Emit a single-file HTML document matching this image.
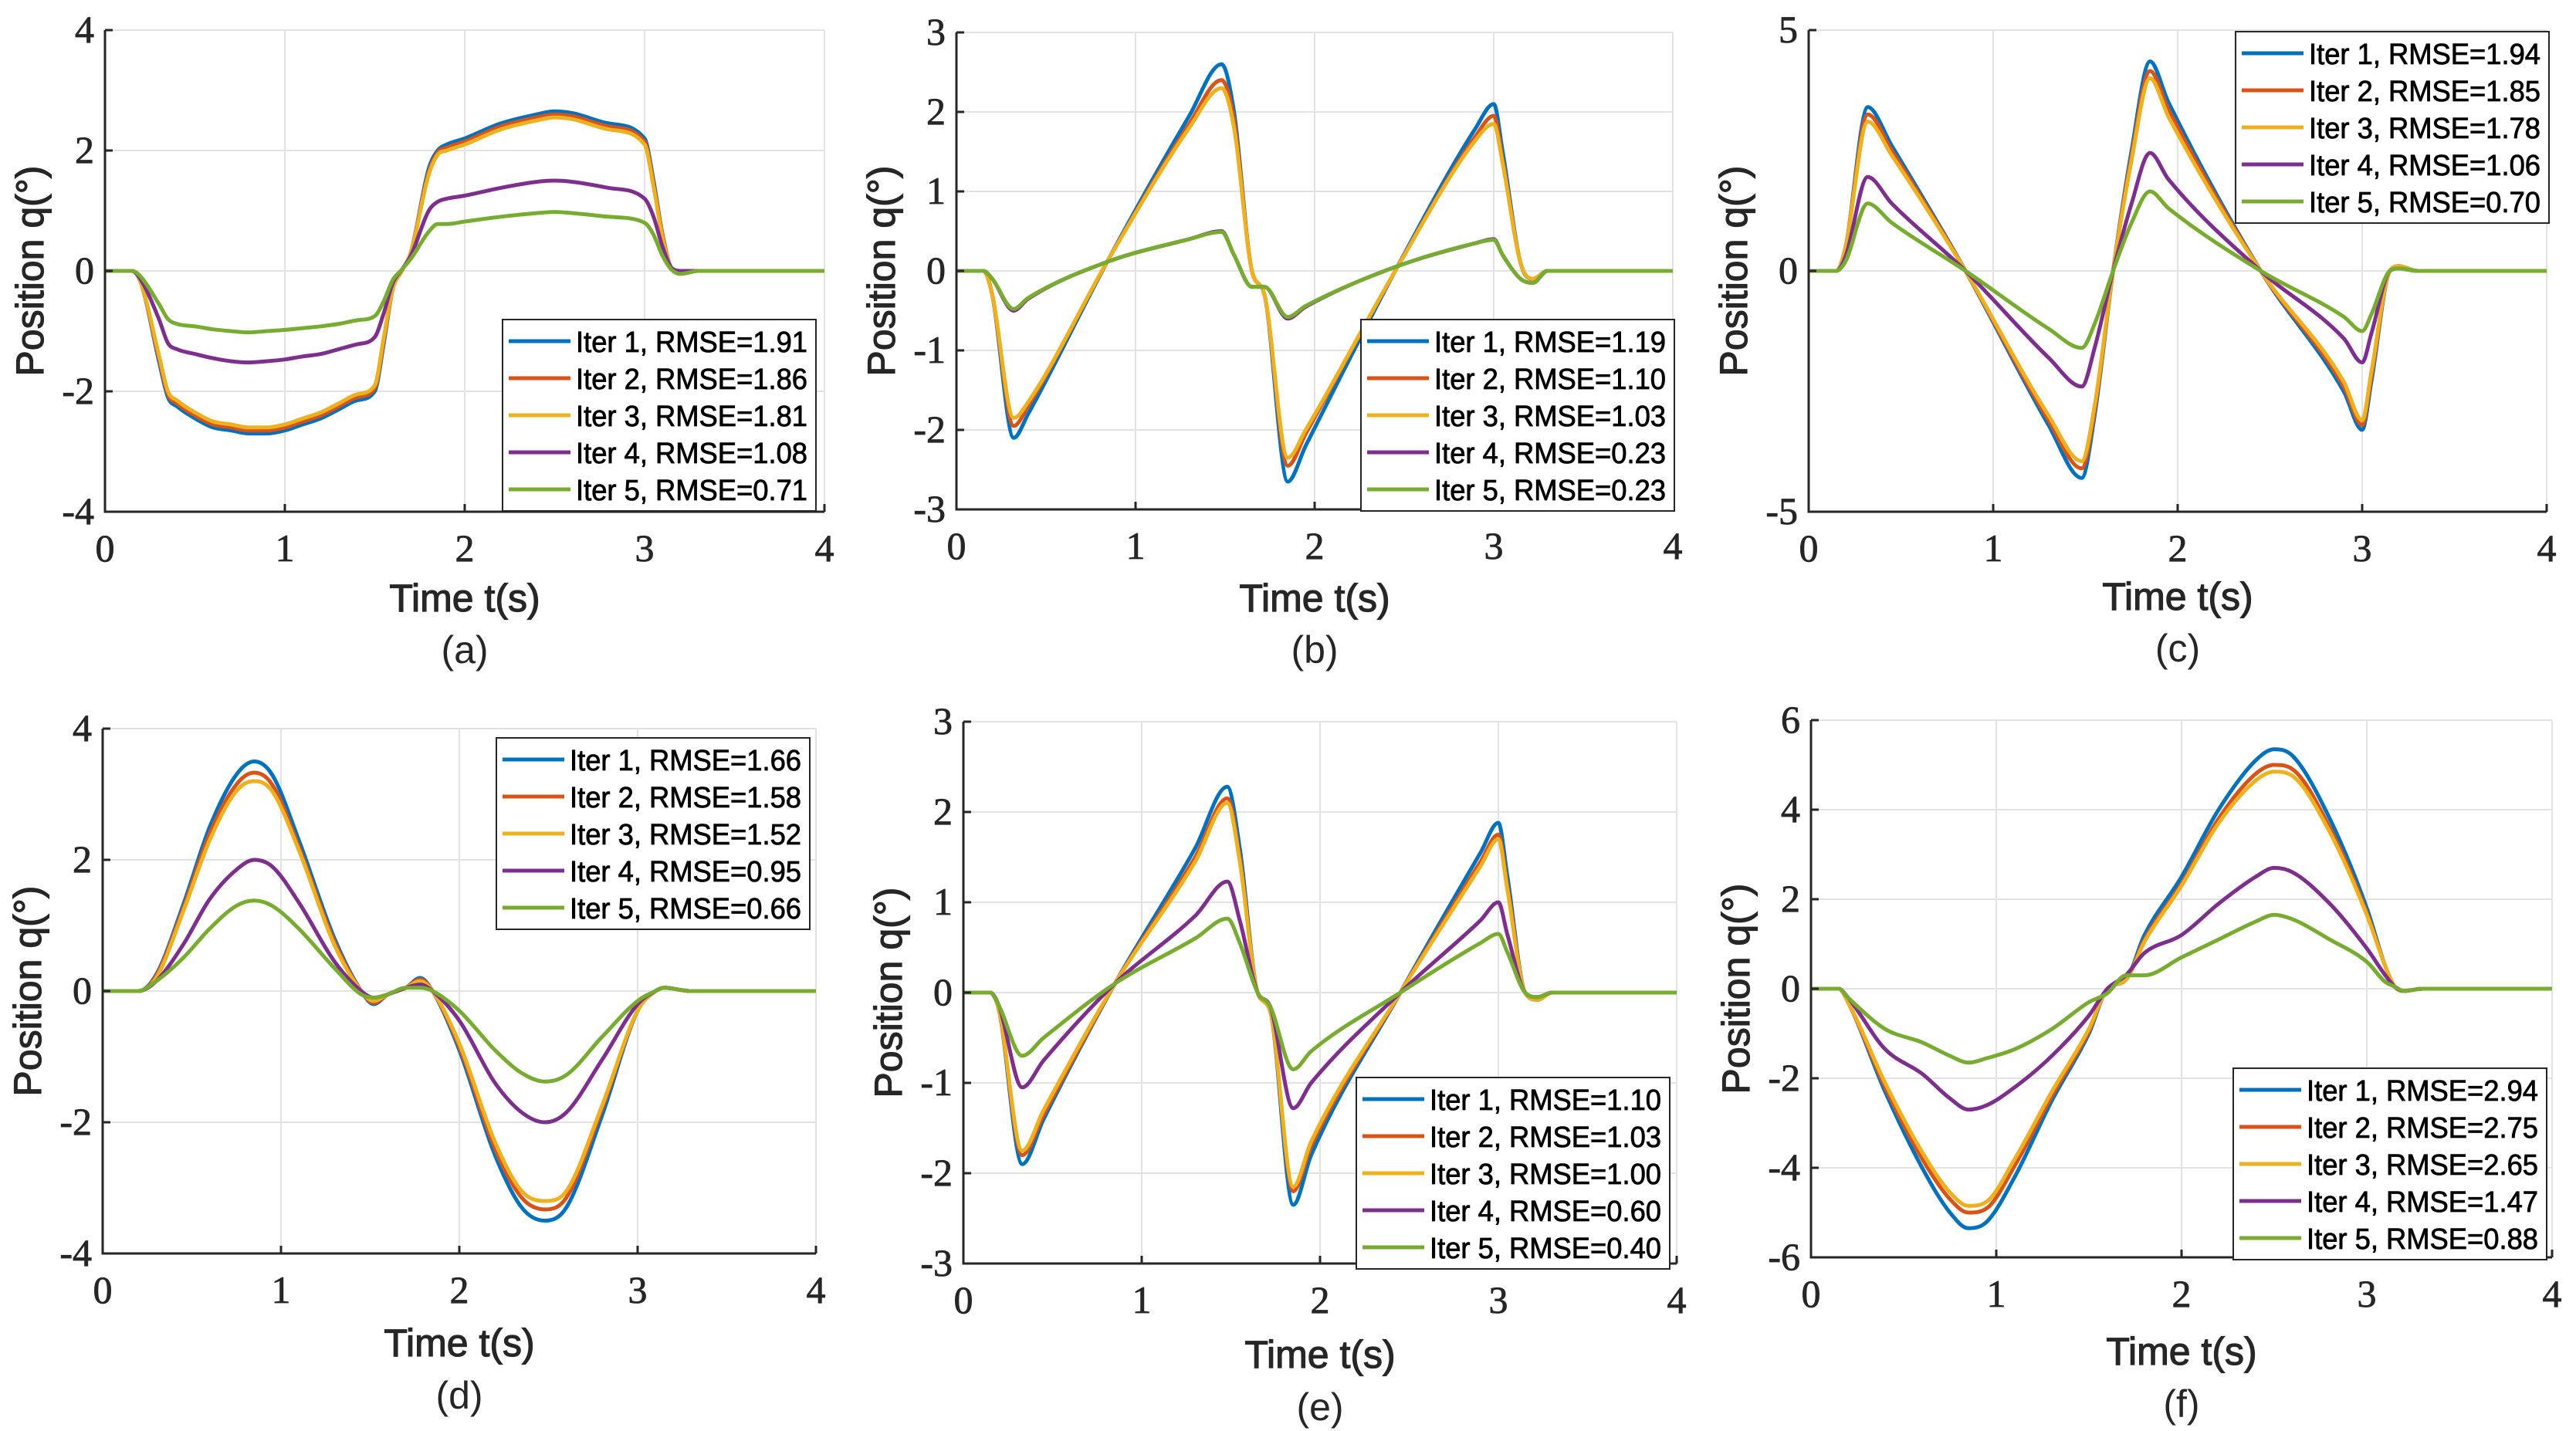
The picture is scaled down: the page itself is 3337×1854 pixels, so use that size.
<!DOCTYPE html>
<html><head><meta charset="utf-8"><style>
html,body{margin:0;padding:0;background:#fff;}
svg{display:block;}
</style></head><body>
<svg id="fig" width="3337" height="1854" viewBox="0 0 3337 1854" xmlns="http://www.w3.org/2000/svg"></svg>
<script>
// ---- data ----
const iterNames = ["Iter 1","Iter 2","Iter 3","Iter 4","Iter 5"];
const seriesColors = ["#0072BD","#D95319","#EDB120","#7E2F8E","#77AC30"];
const xTicks = [0,1,2,3,4];

// panel (a)
const tA = [0,0.15,0.2,0.3,0.35,0.4,0.5,0.6,0.7,0.8,0.9,1.0,1.1,1.2,1.3,1.4,1.5,1.55,1.6,1.65,1.7,1.8,1.85,1.9,2.0,2.2,2.4,2.5,2.6,2.8,3.0,3.05,3.1,3.15,3.2,3.3,4.0];
const a1 = [0,0,-0.2,-1.5,-2.1,-2.25,-2.45,-2.6,-2.65,-2.7,-2.7,-2.65,-2.55,-2.45,-2.3,-2.15,-2.0,-1.2,-0.3,0,0.3,1.7,2.0,2.1,2.2,2.45,2.6,2.65,2.62,2.45,2.2,1.5,0.6,0.05,0,0,0];
const a2 = [0,0,-0.2,-1.45,-2.05,-2.2,-2.4,-2.55,-2.6,-2.65,-2.65,-2.6,-2.5,-2.4,-2.25,-2.1,-1.95,-1.15,-0.3,0,0.3,1.65,1.97,2.05,2.15,2.4,2.55,2.6,2.57,2.4,2.15,1.45,0.6,0.05,0,0,0];
const a3 = [0,0,-0.2,-1.4,-2.0,-2.15,-2.35,-2.5,-2.55,-2.6,-2.6,-2.55,-2.45,-2.35,-2.2,-2.05,-1.9,-1.1,-0.3,0,0.3,1.6,1.93,2.0,2.1,2.35,2.5,2.55,2.52,2.35,2.1,1.4,0.55,0.05,0,0,0];
const a4 = [0,0,-0.15,-0.8,-1.2,-1.3,-1.38,-1.45,-1.5,-1.52,-1.5,-1.47,-1.42,-1.38,-1.3,-1.22,-1.1,-0.7,-0.2,0.02,0.25,1.0,1.15,1.2,1.25,1.38,1.48,1.5,1.48,1.38,1.2,0.9,0.4,0.05,0,0,0];
const a5 = [0,0,-0.1,-0.55,-0.8,-0.88,-0.92,-0.97,-1.0,-1.02,-1.0,-0.98,-0.95,-0.92,-0.88,-0.82,-0.75,-0.5,-0.15,0.02,0.2,0.65,0.78,0.78,0.82,0.9,0.96,0.98,0.96,0.9,0.8,0.6,0.25,0.02,-0.05,0,0];
const rmseA = ["1.91","1.86","1.81","1.08","0.71"];

// panel (b)
const tB = [0,0.15,0.2,0.32,0.4,0.85,1.3,1.48,1.55,1.65,1.72,1.85,1.95,2.45,2.9,3.0,3.05,3.15,3.22,3.3,4];
const b1 = [0,0,-0.3,-2.1,-1.8,0.15,1.95,2.6,2.0,0,-0.3,-2.65,-2.2,0.0,1.8,2.1,1.5,0.1,-0.1,0,0];
const b2 = [0,0,-0.3,-1.95,-1.7,0.15,1.85,2.4,1.9,0,-0.3,-2.45,-2.05,0,1.7,1.95,1.4,0.1,-0.1,0,0];
const b3 = [0,0,-0.3,-1.85,-1.65,0.15,1.8,2.3,1.8,0,-0.3,-2.35,-2.0,0,1.65,1.85,1.35,0.1,-0.1,0,0];
const b4 = [0,0,-0.1,-0.5,-0.35,0.12,0.4,0.5,0.2,-0.2,-0.2,-0.6,-0.45,0.05,0.35,0.4,0.2,-0.1,-0.15,0,0];
const b5 = [0,0,-0.1,-0.48,-0.34,0.12,0.4,0.49,0.2,-0.2,-0.2,-0.58,-0.44,0.05,0.35,0.39,0.2,-0.1,-0.15,0,0];
const rmseB = ["1.19","1.10","1.03","0.23","0.23"];

// panel (c)
const tC = [0,0.15,0.2,0.32,0.45,0.85,1.3,1.48,1.55,1.65,1.75,1.85,1.95,2.45,2.9,3.0,3.05,3.15,3.2,3.3,4];
const c1 = [0,0,0.5,3.4,2.6,0,-3.2,-4.3,-3.0,0,2.5,4.35,3.5,0,-2.5,-3.3,-2.3,0,0.1,0,0];
const c2 = [0,0,0.5,3.25,2.5,0,-3.1,-4.1,-2.9,0,2.4,4.15,3.35,0,-2.4,-3.2,-2.2,0,0.1,0,0];
const c3 = [0,0,0.5,3.1,2.4,0,-3.0,-3.95,-2.8,0,2.3,4.0,3.2,0,-2.3,-3.1,-2.1,0,0.1,0,0];
const c4 = [0,0,0.3,1.95,1.4,0,-1.8,-2.4,-1.6,0,1.4,2.45,1.9,0,-1.4,-1.9,-1.3,0,0.05,0,0];
const c5 = [0,0,0.2,1.4,1.0,0,-1.2,-1.6,-1.1,0,1.0,1.65,1.3,0,-0.95,-1.25,-0.9,0,0.05,0,0];
const rmseC = ["1.94","1.85","1.78","1.06","0.70"];

// panel (d)
const tD = [0,0.2,0.3,0.45,0.6,0.75,0.85,0.95,1.1,1.3,1.45,1.52,1.6,1.7,1.78,1.85,2.0,2.2,2.35,2.48,2.6,2.8,3.0,3.1,3.15,3.3,4];
const d1 = [0,0,0.25,1.3,2.5,3.3,3.5,3.3,2.3,0.8,0,-0.2,-0.05,0.05,0.2,0,-0.9,-2.5,-3.3,-3.5,-3.3,-1.9,-0.3,0,0.05,0,0];
const d2 = [0,0,0.23,1.25,2.4,3.15,3.33,3.15,2.2,0.75,0,-0.18,-0.05,0.05,0.18,0,-0.85,-2.4,-3.15,-3.33,-3.15,-1.8,-0.3,0,0.05,0,0];
const d3 = [0,0,0.2,1.2,2.3,3.05,3.2,3.05,2.15,0.7,0,-0.15,-0.05,0.05,0.15,0,-0.8,-2.3,-3.05,-3.2,-3.05,-1.75,-0.3,0,0.05,0,0];
const d4 = [0,0,0.15,0.7,1.4,1.85,2.0,1.9,1.35,0.45,0,-0.1,-0.05,0.05,0.1,0,-0.45,-1.4,-1.85,-2.0,-1.85,-1.05,-0.2,0,0.05,0,0];
const d5 = [0,0,0.15,0.5,0.95,1.3,1.38,1.3,0.95,0.35,-0.05,-0.1,-0.05,0.05,0.05,0,-0.3,-0.9,-1.25,-1.38,-1.28,-0.7,-0.15,0,0.05,0,0];
const rmseD = ["1.66","1.58","1.52","0.95","0.66"];

// panel (e)
const tE = [0,0.15,0.2,0.33,0.45,0.85,1.3,1.48,1.55,1.65,1.72,1.85,1.95,2.45,2.9,3.0,3.05,3.15,3.22,3.3,4];
const e1 = [0,0,-0.2,-1.9,-1.4,0.1,1.6,2.28,1.6,0,-0.2,-2.35,-1.8,0,1.55,1.88,1.3,0,-0.08,0,0];
const e2 = [0,0,-0.2,-1.8,-1.35,0.1,1.5,2.15,1.5,0,-0.2,-2.2,-1.7,0,1.45,1.75,1.2,0,-0.08,0,0];
const e3 = [0,0,-0.2,-1.75,-1.3,0.1,1.45,2.1,1.45,0,-0.2,-2.15,-1.65,0,1.4,1.7,1.15,0,-0.08,0,0];
const e4 = [0,0,-0.15,-1.05,-0.75,0.1,0.85,1.23,0.8,0,-0.15,-1.28,-1.0,0,0.8,1.0,0.65,0,-0.05,0,0];
const e5 = [0,0,-0.15,-0.7,-0.5,0.1,0.6,0.82,0.55,0,-0.15,-0.85,-0.65,0,0.55,0.65,0.45,0,-0.05,0,0];
const rmseE = ["1.10","1.03","1.00","0.60","0.40"];

// panel (f)
const tF = [0,0.15,0.2,0.4,0.6,0.75,0.85,0.95,1.1,1.3,1.5,1.6,1.7,1.8,2.0,2.2,2.4,2.5,2.6,2.8,3.0,3.1,3.15,3.2,3.3,4];
const f1 = [0,0,-0.3,-2.3,-4.0,-5.0,-5.35,-5.2,-4.2,-2.5,-1.0,0,0.2,1.2,2.5,4.0,5.1,5.35,5.2,3.8,1.8,0.5,0.05,-0.05,0,0];
const f2 = [0,0,-0.3,-2.2,-3.8,-4.7,-5.0,-4.9,-3.95,-2.4,-0.95,0,0.2,1.1,2.35,3.8,4.8,5.0,4.9,3.6,1.7,0.5,0.05,-0.05,0,0];
const f3 = [0,0,-0.3,-2.1,-3.65,-4.55,-4.85,-4.75,-3.8,-2.3,-0.9,0,0.2,1.05,2.3,3.7,4.65,4.85,4.75,3.5,1.65,0.5,0.05,-0.05,0,0];
const f4 = [0,0,-0.2,-1.35,-1.9,-2.45,-2.7,-2.6,-2.2,-1.5,-0.6,0,0.3,0.8,1.2,1.9,2.5,2.7,2.6,1.9,0.9,0.3,0.05,-0.05,0,0];
const f5 = [0,0,-0.2,-0.9,-1.2,-1.5,-1.65,-1.55,-1.35,-0.9,-0.3,-0.1,0.3,0.3,0.7,1.1,1.5,1.65,1.55,1.1,0.6,0.15,0.05,-0.05,0,0];
const rmseF = ["2.94","2.75","2.65","1.47","0.88"];

const yTicksA = [-4,-2,0,2,4];
const yTicksB = [-3,-2,-1,0,1,2,3];
const yTicksC = [-5,0,5];
const yTicksD = [-4,-2,0,2,4];
const yTicksE = [-3,-2,-1,0,1,2,3];
const yTicksF = [-6,-4,-2,0,2,4,6];

// ---- layout ----
const panels = [
 {id:"a",t:tA,s:[a1,a2,a3,a4,a5],r:rmseA,yt:yTicksA,L:136,R:1068,T:39,B:663,leg:[651,414],xl:774,pl:841},
 {id:"b",t:tB,s:[b1,b2,b3,b4,b5],r:rmseB,yt:yTicksB,L:1239,R:2167,T:42,B:660,leg:[1763,414],xl:774,pl:841},
 {id:"c",t:tC,s:[c1,c2,c3,c4,c5],r:rmseC,yt:yTicksC,L:2343,R:3299,T:39,B:663,leg:[2896,41],xl:772,pl:839},
 {id:"d",t:tD,s:[d1,d2,d3,d4,d5],r:rmseD,yt:yTicksD,L:133,R:1057,T:944,B:1624,leg:[643,956],xl:1739,pl:1807},
 {id:"e",t:tE,s:[e1,e2,e3,e4,e5],r:rmseE,yt:yTicksE,L:1248,R:2172,T:935,B:1637,leg:[1757,1396],xl:1754,pl:1822},
 {id:"f",t:tF,s:[f1,f2,f3,f4,f5],r:rmseF,yt:yTicksF,L:2346,R:3306,T:933,B:1629,leg:[2893,1384],xl:1750,pl:1818}
];
const NS="http://www.w3.org/2000/svg";
const svg=document.getElementById("fig");
function mk(tag,attrs,parent){const e=document.createElementNS(NS,tag);for(const k in attrs)e.setAttribute(k,attrs[k]);(parent||svg).appendChild(e);return e;}

function smoothPath(xs,ys){
  const n=xs.length, m=new Array(n), dl=[];
  for(let i=0;i<n-1;i++) dl.push((ys[i+1]-ys[i])/(xs[i+1]-xs[i]));
  m[0]=dl[0]; m[n-1]=dl[n-2];
  for(let i=1;i<n-1;i++){ m[i]=(dl[i-1]*dl[i]<=0)?0:(dl[i-1]+dl[i])/2; }
  for(let i=0;i<n-1;i++){ if(dl[i]===0){m[i]=0;m[i+1]=0;continue;}
    const a=m[i]/dl[i], b=m[i+1]/dl[i], s=a*a+b*b;
    if(s>9){const t=3/Math.sqrt(s); m[i]=t*a*dl[i]; m[i+1]=t*b*dl[i];} }
  let d="M"+xs[0].toFixed(1)+","+ys[0].toFixed(1);
  for(let i=0;i<n-1;i++){ const h=(xs[i+1]-xs[i])/3;
    d+=` C${(xs[i]+h).toFixed(1)},${(ys[i]+m[i]*h).toFixed(1)} ${(xs[i+1]-h).toFixed(1)},${(ys[i+1]-m[i+1]*h).toFixed(1)} ${xs[i+1].toFixed(1)},${ys[i+1].toFixed(1)}`; }
  return d;
}

panels.forEach(p=>{
  const g=mk("g",{});
  
  
  const ymin=p.yt[0], ymax=p.yt[p.yt.length-1];
  const X=v=>p.L+(v-0)/4*(p.R-p.L);
  const Y=v=>p.B-(v-ymin)/(ymax-ymin)*(p.B-p.T);
  xTicks.forEach(v=>{ if(v>0){const l=mk("line",{x1:X(v),x2:X(v),y1:p.T,y2:p.B,stroke:"#e3e3e3","stroke-width":2},g);
    }});
  p.yt.forEach(v=>{ if(v>ymin){const l=mk("line",{x1:p.L,x2:p.R,y1:Y(v),y2:Y(v),stroke:"#e3e3e3","stroke-width":2},g);
    }});
  p.s.forEach((arr,i)=>{
    const xs=p.t.map(X), ys=arr.map(Y);
    const pa=mk("path",{d:smoothPath(xs,ys),fill:"none",stroke:seriesColors[i],"stroke-width":5,"stroke-linejoin":"round"},g);
    
    
  });
  const ax=mk("path",{d:`M${p.L},${p.T} L${p.L},${p.B} L${p.R},${p.B}`,fill:"none",stroke:"#262626","stroke-width":3},g);
  
  xTicks.forEach(v=>{
    mk("line",{x1:X(v),x2:X(v),y1:p.B,y2:p.B-10,stroke:"#262626","stroke-width":3},g);
    const t=mk("text",{x:X(v),y:p.B+64,"text-anchor":"middle","font-family":"Liberation Serif, serif","font-size":50,fill:"#262626",stroke:"#262626","stroke-width":0.8},g);
    t.textContent=v;
    
  });
  p.yt.forEach(v=>{
    mk("line",{x1:p.L,x2:p.L+10,y1:Y(v),y2:Y(v),stroke:"#262626","stroke-width":3},g);
    const t=mk("text",{x:p.L-14,y:Y(v)+16,"text-anchor":"end","font-family":"Liberation Serif, serif","font-size":50,fill:"#262626",stroke:"#262626","stroke-width":0.8},g);
    t.textContent=String(v);
    
  });
  const cx=(p.L+p.R)/2;
  const xt=mk("text",{x:cx,y:p.xl+18,"text-anchor":"middle","font-family":"Liberation Sans, sans-serif","font-size":50,fill:"#262626",stroke:"#262626","stroke-width":1.2},g);
  xt.textContent="Time t(s)";
  
  const cy=(p.T+p.B)/2, yx=p.L-80;
  const yt=mk("text",{x:yx,y:cy,"text-anchor":"middle","font-family":"Liberation Sans, sans-serif","font-size":50,fill:"#262626",stroke:"#262626","stroke-width":1.2,transform:`rotate(-90 ${yx} ${cy})`},g);
  yt.textContent="Position q(°)";
  
  const pl=mk("text",{x:cx,y:p.pl+18,"text-anchor":"middle","font-family":"Liberation Sans, sans-serif","font-size":50,fill:"#262626"},g);
  pl.textContent="("+p.id+")";
  
  const lg=mk("g",{},g);
  
  const lx=p.leg[0], ly=p.leg[1];
  mk("rect",{x:lx,y:ly,width:406,height:248,fill:"#fff",stroke:"#262626","stroke-width":2},lg);
  iterNames.forEach((n,i)=>{
    const yy=ly+28+i*48;
    const ln=mk("line",{x1:lx+8,x2:lx+88,y1:yy,y2:yy,stroke:seriesColors[i],"stroke-width":5},lg);
    
    const tx=mk("text",{x:lx+95,y:yy+14,"font-family":"Liberation Sans, sans-serif","font-size":38,fill:"#000",stroke:"#000","stroke-width":0.8,textLength:300,lengthAdjust:"spacingAndGlyphs"},lg);
    tx.textContent=n+", RMSE="+p.r[i];
    
  });
});
</script>
</body></html>
